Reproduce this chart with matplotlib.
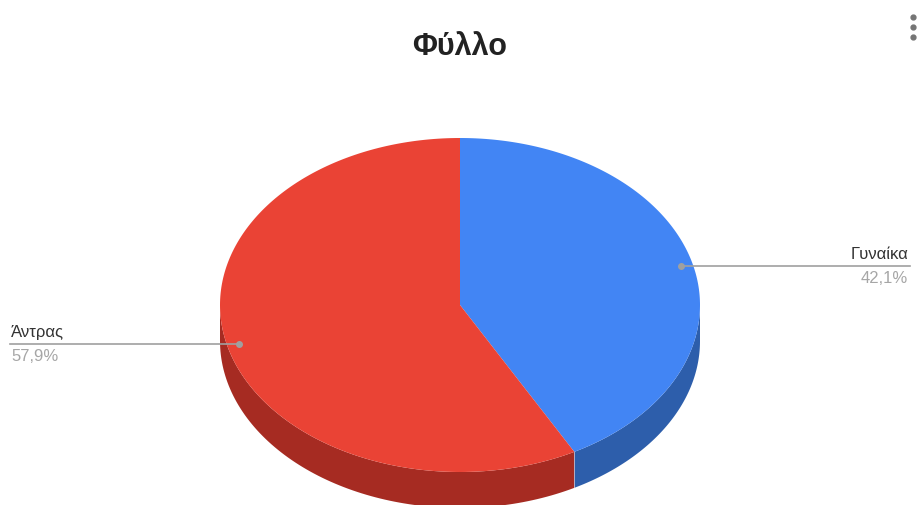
import numpy as np
import matplotlib.pyplot as plt
from matplotlib.patches import Polygon

plt.rcParams['font.family'] = ['Liberation Sans', 'DejaVu Sans']

# slice data, clockwise from 12 o'clock
labels = ['Γυναίκα', 'Άντρας']
shares = [42.1, 57.9]
pct_labels = ['42,1%', '57,9%']
top_colors = ['#4285f4', '#ea4335']
side_colors = ['#2d5eab', '#a62b22']

# ellipse geometry in pixels
CX, CY = 460, 305
RX, RY = 240, 167
DEPTH = 36
LABEL_R = 0.95


def ellipse_pt(theta, r=1.0):
    # theta in degrees, clockwise from top, y grows downwards
    t = np.radians(theta)
    return CX + RX * r * np.sin(t), CY - RY * r * np.cos(t)


fig = plt.figure(figsize=(9.24, 5.05), dpi=100)
ax = fig.add_axes([0, 0, 1, 1])
ax.set_xlim(0, 924)
ax.set_ylim(505, 0)
ax.axis('off')

bounds = np.concatenate([[0], np.cumsum(shares) / sum(shares) * 360])

# side walls (only the front half, 90..270 deg, is visible)
for i in range(len(shares)):
    a0 = max(bounds[i], 90)
    a1 = min(bounds[i + 1], 270)
    if a1 <= a0:
        continue
    th = np.linspace(a0, a1, 100)
    xs, ys = ellipse_pt(th)
    pts = list(zip(xs, ys)) + list(zip(xs[::-1], ys[::-1] + DEPTH))
    ax.add_patch(Polygon(pts, closed=True, facecolor=side_colors[i],
                         edgecolor='none'))

# seam between side walls
for b in bounds[1:-1]:
    if 90 < b < 270:
        x, y = ellipse_pt(b)
        ax.plot([x, x], [y, y + DEPTH], color='#ffffff', lw=0.6, alpha=0.5)

# top face
for i in range(len(shares)):
    th = np.linspace(bounds[i], bounds[i + 1], 200)
    xs, ys = ellipse_pt(th)
    pts = [(CX, CY)] + list(zip(xs, ys))
    ax.add_patch(Polygon(pts, closed=True, facecolor=top_colors[i],
                         edgecolor='none'))

# leader lines and labels
for i in range(len(shares)):
    mid = (bounds[i] + bounds[i + 1]) / 2
    px, py = ellipse_pt(mid, LABEL_R)
    if px > CX:
        ex, tx, ha = 910, 908, 'right'
    else:
        ex, tx, ha = 10, 11, 'left'
    ax.plot([px, ex], [py, py], color='#a0a0a0', lw=1.2)
    ax.plot(px, py, 'o', ms=4, color='#a0a0a0')
    ax.text(tx, py - 7, labels[i], ha=ha, va='baseline', fontsize=12,
            color='#333333')
    ax.text(tx, py + 17, pct_labels[i], ha=ha, va='baseline', fontsize=12,
            color='#a6a6a6')

ax.text(CX, 55, 'Φύλλο', ha='center', va='baseline', fontsize=22,
        fontweight='bold', color='#222222')

# menu dots
ax.plot([913, 913, 913], [17, 27, 37], 'o', ms=3.5, color='#757575')

fig.savefig('out.png', dpi=100)
